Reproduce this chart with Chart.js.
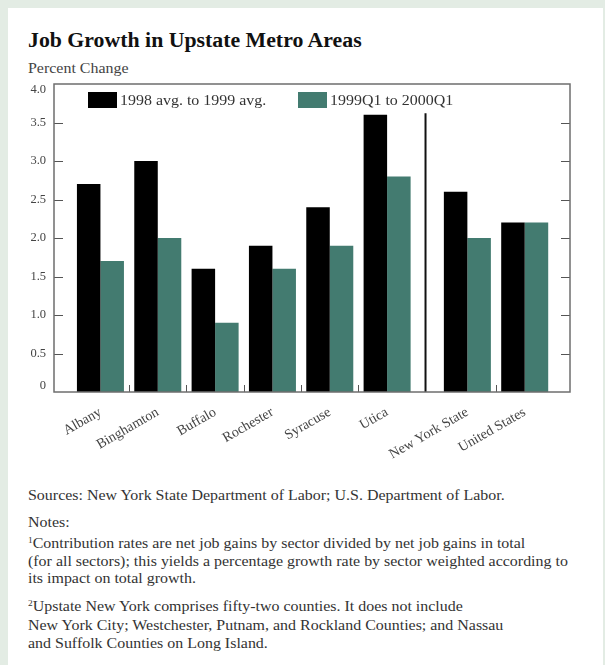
<!DOCTYPE html>
<html>
<head>
<meta charset="utf-8">
<script src="https://cdn.jsdelivr.net/npm/chart.js@4.4.1/dist/chart.umd.min.js"></script>
<style>
  body { margin: 0; width: 605px; height: 665px; overflow: hidden; background: #e3ece4;
         font-family: "Liberation Serif", "Times New Roman", serif; }
  #panel { position: absolute; left: 8px; top: 8px; width: 595px; height: 657px; background: #fff; }
  #wrap { position: absolute; left: 0; top: 0; width: 605px; height: 470px; }
  .t { position: absolute; left: 28px; white-space: nowrap; color: #333; line-height: 1;
       transform: scaleX(1.1); transform-origin: 0 0; }
  .title { font-weight: bold; font-size: 20px; color: #111; top: 30px; transform: scaleX(1.09); }
  .note { font-size: 14.5px; }
  sup { font-size: 8.5px; vertical-align: 5px; }
</style>
</head>
<body>
<div id="panel"></div>
<div class="t title">Job Growth in Upstate Metro Areas</div>
<div class="t note" style="top:61px;color:#444">Percent Change</div>
<div id="wrap"><canvas id="jobChart" width="605" height="470"></canvas></div>
<div class="t note" style="top:488px">Sources: New York State Department of Labor; U.S. Department of Labor.</div>
<div class="t note" style="top:515px">Notes:</div>
<div class="t note" style="top:536px"><sup>1</sup>Contribution rates are net job gains by sector divided by net job gains in total</div>
<div class="t note" style="top:554px">(for all sectors); this yields a percentage growth rate by sector weighted according to</div>
<div class="t note" style="top:571px">its impact on total growth.</div>
<div class="t note" style="top:599px"><sup>2</sup>Upstate New York comprises fifty-two counties. It does not include</div>
<div class="t note" style="top:618px">New York City; Westchester, Putnam, and Rockland Counties; and Nassau</div>
<div class="t note" style="top:636px">and Suffolk Counties on Long Island.</div>

<script>
const categories = ['Albany', 'Binghamton', 'Buffalo', 'Rochester', 'Syracuse', 'Utica', 'New York State', 'United States'];
const annualChange = [2.7, 3.0, 1.6, 1.9, 2.4, 3.6, 2.6, 2.2];
const quarterChange = [1.7, 2.0, 0.9, 1.6, 1.9, 2.8, 2.0, 2.2];
const seriesLabels = ['1998 avg. to 1999 avg.', '1999Q1 to 2000Q1'];
const yTicks = [0, 0.5, 1, 1.5, 2, 2.5, 3, 3.5, 4];

// the state/national pair sits a bit further right, past a divider
const slot = i => i + (i > 5 ? 0.4 : 0);
const slots = categories.map((c, i) => slot(i));
const dividerAt = 5.67;

const decor = {
    id: 'decor',
    afterDatasetsDraw(chart) {
        const { ctx, chartArea: a, scales: { x, y } } = chart;
        const line = (x1, y1, x2, y2) => { ctx.beginPath(); ctx.moveTo(x1, y1); ctx.lineTo(x2, y2); ctx.stroke(); };
        ctx.save();
        ctx.strokeStyle = '#555';
        ctx.lineWidth = 1;
        yTicks.slice(1, -1).forEach(v => {
            const py = Math.round(y.getPixelForValue(v)) + 0.5;
            line(a.left, py, a.left + 9, py);
            line(a.right - 9, py, a.right, py);
        });
        // y labels, end ones nudged inside the frame
        ctx.fillStyle = '#444';
        ctx.font = '12.5px "Liberation Serif", serif';
        ctx.textAlign = 'right';
        ctx.textBaseline = 'middle';
        yTicks.forEach(v => {
            const py = Math.min(Math.max(y.getPixelForValue(v), a.top + 6), a.bottom - 6);
            ctx.fillText(v === 0 ? '0' : v.toFixed(1), a.left - 8, py);
        });
        // small marks between neighbouring pairs
        slots.forEach((s, i) => {
            if (i === 5 || i === slots.length - 1) return;
            const px = Math.round(x.getPixelForValue(s + 0.5)) + 0.5;
            line(px, a.bottom, px, a.bottom - 7);
        });
        ctx.strokeStyle = '#111';
        ctx.lineWidth = 2;
        const dx = x.getPixelForValue(dividerAt);
        line(dx, y.getPixelForValue(3.62), dx, a.bottom);
        ctx.strokeStyle = '#6e6e6e';
        ctx.lineWidth = 1.5;
        ctx.strokeRect(a.left, a.top, a.right - a.left, a.bottom - a.top);

        // legend inside the plot
        const lx = [a.left + 34, a.left + 244];
        ctx.font = '14.5px "Liberation Serif", serif';
        ctx.textAlign = 'left';
        ctx.textBaseline = 'alphabetic';
        chart.data.datasets.forEach((ds, i) => {
            ctx.fillStyle = ds.backgroundColor;
            ctx.fillRect(lx[i], a.top + 8, 29, 16);
            ctx.fillStyle = '#333';
            ctx.save();
            ctx.translate(lx[i] + 32, a.top + 21);
            ctx.scale(1.1, 1);
            ctx.fillText(ds.label, 0, 0);
            ctx.restore();
        });
        ctx.restore();
    }
};

new Chart(document.getElementById('jobChart'), {
    type: 'bar',
    data: {
        datasets: [{
            label: seriesLabels[0],
            data: annualChange.map((v, i) => ({ x: slots[i], y: v })),
            backgroundColor: '#000000',
            categoryPercentage: 0.82,
            barPercentage: 1
        }, {
            label: seriesLabels[1],
            data: quarterChange.map((v, i) => ({ x: slots[i], y: v })),
            backgroundColor: '#437b70',
            categoryPercentage: 0.82,
            barPercentage: 1
        }]
    },
    options: {
        responsive: false,
        animation: false,
        layout: { padding: { top: 84, right: 35, left: 0, bottom: 0 } },
        plugins: { legend: { display: false }, tooltip: { enabled: false } },
        scales: {
            x: {
                type: 'linear',
                min: -0.81,
                max: 8.19,
                offset: false,
                grid: { display: false },
                border: { display: false },
                afterBuildTicks: scale => { scale.ticks = slots.map(v => ({ value: v })); },
                afterFit: scale => { scale.height = 78; },
                ticks: {
                    autoSkip: false,
                    minRotation: 30,
                    maxRotation: 30,
                    padding: 4,
                    color: '#444',
                    font: { family: '"Liberation Serif", serif', size: 14 },
                    callback: (v, i) => categories[i]
                }
            },
            y: {
                min: 0,
                max: 4,
                grid: { display: false },
                border: { display: false },
                afterBuildTicks: scale => { scale.ticks = yTicks.map(v => ({ value: v })); },
                afterFit: scale => { scale.width = 54; },
                ticks: { display: false }
            }
        }
    },
    plugins: [decor]
});
</script>
</body>
</html>
